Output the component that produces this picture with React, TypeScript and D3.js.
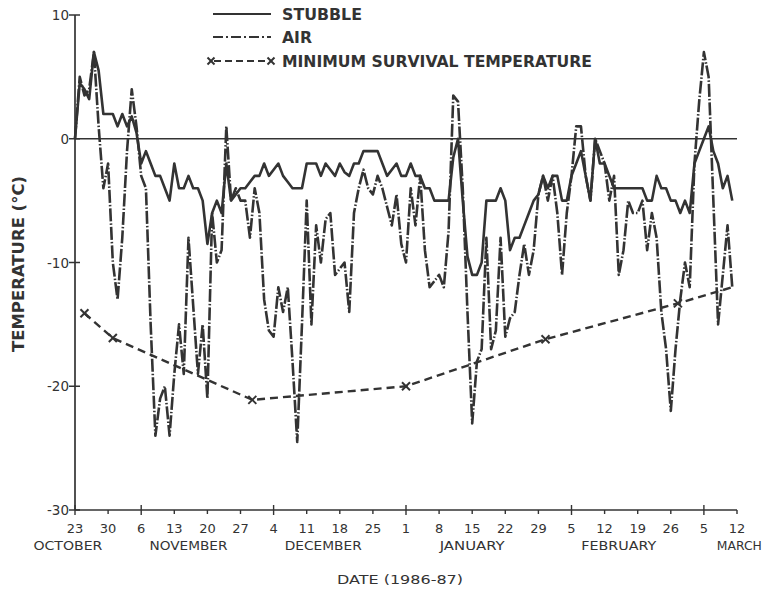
import React from "react";
import * as d3 from "d3";

// ---- Data (daily values from 23 Oct 1986) ----
const startDate = "1986-10-23";
const endDate = "1987-03-12";

const stubble = [
  0, 4.5, 4, 3.2, 7, 5.5, 2, 2, 2, 1, 2, 1, 1.8, 0.5, -2, -1, -2, -3, -3, -4,
  -5, -2, -4, -4, -3, -4, -4, -5, -8.5, -6, -5, -6, -2, -5, -4.5, -4,
  -4, -3.5, -3, -3, -2, -3, -2.5, -2, -3, -3.5, -4, -4, -4, -2, -2, -2, -3, -2,
  -2.5, -3, -2, -2.7, -3, -2, -2, -1, -1, -1, -1, -2, -3, -2.5, -2, -3, -3,
  -2, -3, -3, -4, -4, -5, -5, -5, -5, -1.5, 0, -5, -9.5, -11, -11, -10, -5, -5,
  -5, -4, -5, -9, -8, -8, -7, -6, -5, -4.5, -3, -4, -3, -3, -5, -5,
  -3, -2, -1, -3, -5, 0, -2, -2, -3, -4, -4, -4, -4, -4, -4, -4, -5, -5, -3, -4,
  -4, -5, -5, -6, -5, -6, -2, -1, 0, 1, -1, -2, -4, -3, -5,
];

const air = [
  0, 5, 3.5, 4, 7, 1, -4, -2, -10, -13, -8, -1, 4, 1, -3, -4, -15, -24, -21, -20,
  -24, -19, -15, -19, -8, -13.5, -19, -15, -21, -6, -10, -9, 1, -5, -4, -5,
  -5, -8, -4, -6, -13, -15.5, -16, -12, -14, -12, -18, -24.5, -15, -5, -15, -7,
  -10, -6.5, -6, -11, -10.5, -10, -14, -6, -4, -2.5, -4, -4.5, -3, -4, -5.5, -7,
  -4.5, -8.5, -10,
  -4, -7, -3, -9, -12, -11.5, -11, -12, -7.5, 3.5, 3, -4, -14, -23, -18, -17, -8,
  -17, -15.5, -8, -16, -14.5, -14, -11, -8.5, -11, -9, -4.5, -3, -5, -3, -6, -11,
  -6,
  -3, 1, 1, -3, -5, 0, -1, -2, -5, -3, -11, -9, -5, -6, -6, -5, -9, -6, -8, -14,
  -17, -22, -17, -13, -10, -12, -2, 3, 7, 5, -5, -15, -11, -7, -12,
];

// minimum survival temperature (day offset, value)
const mstDays = [2, 8, 37.5, 70, 99.5, 127.5, 139];
const mstValues = [-14.1, -16.1, -21.1, -20.0, -16.2, -13.3, -12.0];
const mstMarked = [true, true, true, true, true, true, false];

const yTicks = [10, 0, -10, -20, -30];
const monthNames = ["OCTOBER", "NOVEMBER", "DECEMBER", "JANUARY", "FEBRUARY", "MARCH"];
const monthCenters = ["1986-10-21T12:00", "1986-11-16T00:00", "1986-12-14T12:00", "1987-01-15T00:00", "1987-02-15T00:00", "1987-03-12T12:00"];
const monthWidths = [69, 78, 77, 65, 75, 45];

const legendLabels = ["STUBBLE", "AIR", "MINIMUM SURVIVAL TEMPERATURE"];

// ---- Layout ----
const W = 770;
const H = 593;
const INK = "#333333";
const FONT = "'DejaVu Sans', sans-serif";

const parseUtc = (s: string) => new Date(s + (s.includes("T") ? "Z" : "T00:00Z"));
const t0 = parseUtc(startDate);
const t1 = parseUtc(endDate);
const dayToDate = (d: number) => new Date(t0.getTime() + d * 864e5);

const x = d3.scaleUtc().domain([t0, t1]).range([75, 737]);
const y = d3.scaleLinear().domain([-30, 10]).range([510, 15]);

const line = d3
  .line<[number, number]>()
  .x((d) => x(dayToDate(d[0])))
  .y((d) => y(d[1]));

const weekTicks = d3.utcDay.range(t0, d3.utcDay.offset(t1, 1), 7);
const fmtDay = d3.utcFormat("%-d");

function Cross({ cx, cy, r = 4 }: { cx: number; cy: number; r?: number }) {
  return (
    <g stroke={INK} strokeWidth={2}>
      <line x1={cx - r} y1={cy - r} x2={cx + r} y2={cy + r} />
      <line x1={cx - r} y1={cy + r} x2={cx + r} y2={cy - r} />
    </g>
  );
}

export default function App() {
  const stubPts = stubble.map((v, i) => [i, v] as [number, number]);
  const airPts = air.map((v, i) => [i, v] as [number, number]);
  const mstPts = mstDays.map((d, i) => [d, mstValues[i]] as [number, number]);
  const x0 = x(t0);
  const x1 = x(t1);
  const yBase = y(-30);

  return (
    <svg
      width={W}
      height={H}
      viewBox={`0 0 ${W} ${H}`}
      style={{ position: "absolute", left: 0, top: 0, background: "#fff" }}
      fontFamily={FONT}
    >
      <rect width={W} height={H} fill="#fff" />

      {/* zero line */}
      <line x1={x0} x2={x1} y1={y(0)} y2={y(0)} stroke={INK} strokeWidth={1.3} />

      {/* y axis */}
      <line x1={x0} x2={x0} y1={y(10)} y2={yBase} stroke={INK} strokeWidth={1.7} />
      {yTicks.map((t) => (
        <g key={t}>
          <line x1={x0 - 6} x2={x0 + 5} y1={y(t)} y2={y(t)} stroke={INK} strokeWidth={1.5} />
          <text x={69} y={y(t) + 5} textAnchor="end" fontSize={13.5} fill={INK}>
            {t < 0 ? "-" + Math.abs(t) : String(t)}
          </text>
        </g>
      ))}

      {/* x axis */}
      <line x1={x0} x2={x1} y1={yBase} y2={yBase} stroke={INK} strokeWidth={1.5} />
      {weekTicks.map((d, i) => {
        const prev = d3.utcDay.offset(d, -7);
        const major = i === 0 || prev.getUTCMonth() !== d.getUTCMonth();
        const xx = x(d);
        return (
          <g key={i}>
            <line
              x1={xx}
              x2={xx}
              y1={major ? yBase - 5 : yBase}
              y2={yBase + (major ? 5 : 4)}
              stroke={INK}
              strokeWidth={1.4}
            />
            <text x={xx} y={533} textAnchor="middle" fontSize={13} fill={INK}>
              {fmtDay(d)}
            </text>
          </g>
        );
      })}
      {monthNames.map((m, i) => (
        <text
          key={m}
          x={x(parseUtc(monthCenters[i]))}
          y={550}
          textAnchor="middle"
          fontSize={13}
          fill={INK}
          textLength={monthWidths[i]}
          lengthAdjust="spacingAndGlyphs"
        >
          {m}
        </text>
      ))}
      <text x={400} y={584} textAnchor="middle" fontSize={12.5} fill={INK} textLength={126} lengthAdjust="spacingAndGlyphs">
        DATE  (1986-87)
      </text>

      {/* y title */}
      <text
        transform={`translate(24,264) rotate(-90)`}
        textAnchor="middle"
        fontSize={15.5}
        fontWeight="bold"
        fill={INK}
        textLength={176}
        lengthAdjust="spacingAndGlyphs"
      >
        TEMPERATURE (°C)
      </text>

      {/* series */}
      <path d={line(stubPts) || ""} fill="none" stroke={INK} strokeWidth={2.6} strokeLinejoin="round" />
      <path
        d={line(airPts) || ""}
        fill="none"
        stroke={INK}
        strokeWidth={2.6}
        strokeLinejoin="round"
        strokeDasharray="13 2 1.5 2"
      />
      <path d={line(mstPts) || ""} fill="none" stroke={INK} strokeWidth={2.4} strokeDasharray="8 5" />
      {mstPts.map((p, i) =>
        mstMarked[i] ? <Cross key={i} cx={x(dayToDate(p[0]))} cy={y(p[1])} /> : null
      )}

      {/* legend */}
      <g>
        <line x1={213} x2={271} y1={14} y2={14} stroke={INK} strokeWidth={1.8} />
        <line x1={213} x2={271} y1={37} y2={37} stroke={INK} strokeWidth={1.8} strokeDasharray="10 3 2 3" />
        <line x1={214} x2={268} y1={61} y2={61} stroke={INK} strokeWidth={2} strokeDasharray="7 4" />
        <Cross cx={211} cy={61} r={3.5} />
        <Cross cx={271} cy={61} r={3.5} />
        {legendLabels.map((l, i) => (
          <text
            key={l}
            x={282}
            y={[20, 43, 67][i]}
            fontSize={16}
            fontWeight="bold"
            fill={INK}
            textLength={[80, 30, 310][i]}
            lengthAdjust="spacingAndGlyphs"
          >
            {l}
          </text>
        ))}
      </g>
    </svg>
  );
}
